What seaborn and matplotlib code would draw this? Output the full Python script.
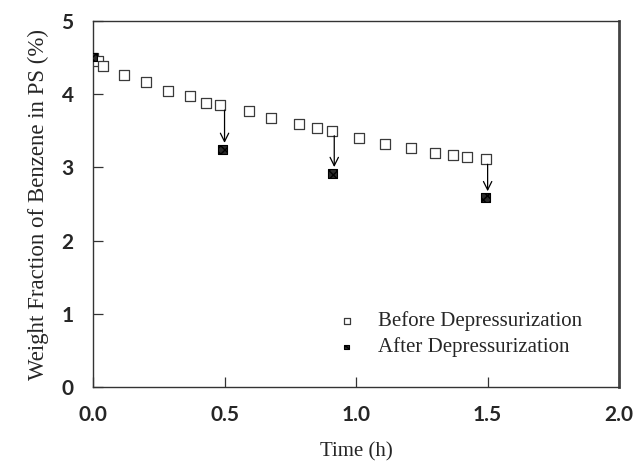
import numpy as np
import pandas as pd
import matplotlib
matplotlib.use("Agg")
import matplotlib.pyplot as plt
import seaborn as sns

# Данные
time_before = [0.0, 0.020, 0.039, 0.119, 0.202, 0.286, 0.369, 0.430, 0.484, 0.592, 0.677,
               0.783, 0.851, 0.910, 1.011, 1.111, 1.209, 1.300, 1.368, 1.423, 1.492]
wf_before = [4.50, 4.46, 4.38, 4.26, 4.17, 4.05, 3.98, 3.88, 3.85, 3.77, 3.68,
             3.59, 3.54, 3.50, 3.40, 3.32, 3.27, 3.20, 3.17, 3.14, 3.11]

time_after = [0.0, 0.493, 0.910, 1.493]
wf_after = [4.51, 3.25, 2.92, 2.59]

# стрелки: от квадрата "до" к маркеру "после"
arrow_from = [3.85, 3.50, 3.11]

x_ticks = [0.0, 0.5, 1.0, 1.5, 2.0]
y_ticks = [0, 1, 2, 3, 4, 5]

df_before = pd.DataFrame({'Time': time_before, 'WF': wf_before})
df_after = pd.DataFrame({'Time': time_after, 'WF': wf_after})

sns.set_style("white")
plt.rcParams['font.family'] = ['Liberation Serif', 'DejaVu Serif']

fig = plt.figure(figsize=(6.37, 4.67), dpi=100)
ax = fig.add_axes([0.146, 0.171, 0.826, 0.784])

sns.scatterplot(data=df_before, x='Time', y='WF', ax=ax, marker='s', s=58,
                facecolor='white', edgecolor='#3a3a3a', linewidth=0.9,
                label='Before Depressurization', zorder=3)
sns.scatterplot(data=df_after, x='Time', y='WF', ax=ax, marker='s', s=40,
                color='#2a2a2a', edgecolor='black', linewidth=0.8, hatch='xxxx',
                label='After Depressurization', zorder=4)

for t, y0, y1 in zip(time_after[1:], arrow_from, wf_after[1:]):
    ax.annotate('', xy=(t + 0.007, y1), xytext=(t + 0.007, y0),
                arrowprops=dict(arrowstyle='->', color='black', lw=0.9,
                                shrinkA=3.5, shrinkB=4.5, mutation_scale=15))

ax.set_xlim(0, 2.0)
ax.set_ylim(0, 5)
ax.set_xticks(x_ticks)
ax.set_yticks(y_ticks)
ax.set_xticklabels([f'{v:.1f}' for v in x_ticks], family='Lato', fontsize=15, weight='bold')
ax.set_yticklabels([str(v) for v in y_ticks], family='Lato', fontsize=15, weight='bold')
ax.tick_params(axis='x', direction='in', length=7, width=0.9, pad=13, color='#333333')
ax.tick_params(axis='y', direction='in', length=7, width=0.9, pad=14, color='#333333')
ax.tick_params(top=False, right=False, bottom=True, left=True)

for side in ['left', 'bottom', 'top']:
    ax.spines[side].set_color('#333333')
    ax.spines[side].set_linewidth(1.0)
ax.spines['right'].set_color('#444444')
ax.spines['right'].set_linewidth(2.0)

ax.set_xlabel('Time (h)', fontsize=15, labelpad=12)
ax.set_ylabel('Weight Fraction of Benzene in PS (%)', fontsize=16.5, labelpad=9)

leg = ax.legend(loc='lower right', bbox_to_anchor=(0.965, 0.03), frameon=False,
                fontsize=15, markerscale=0.5, handletextpad=0.5, labelspacing=0.3)

fig.savefig('out.png', dpi=100)
